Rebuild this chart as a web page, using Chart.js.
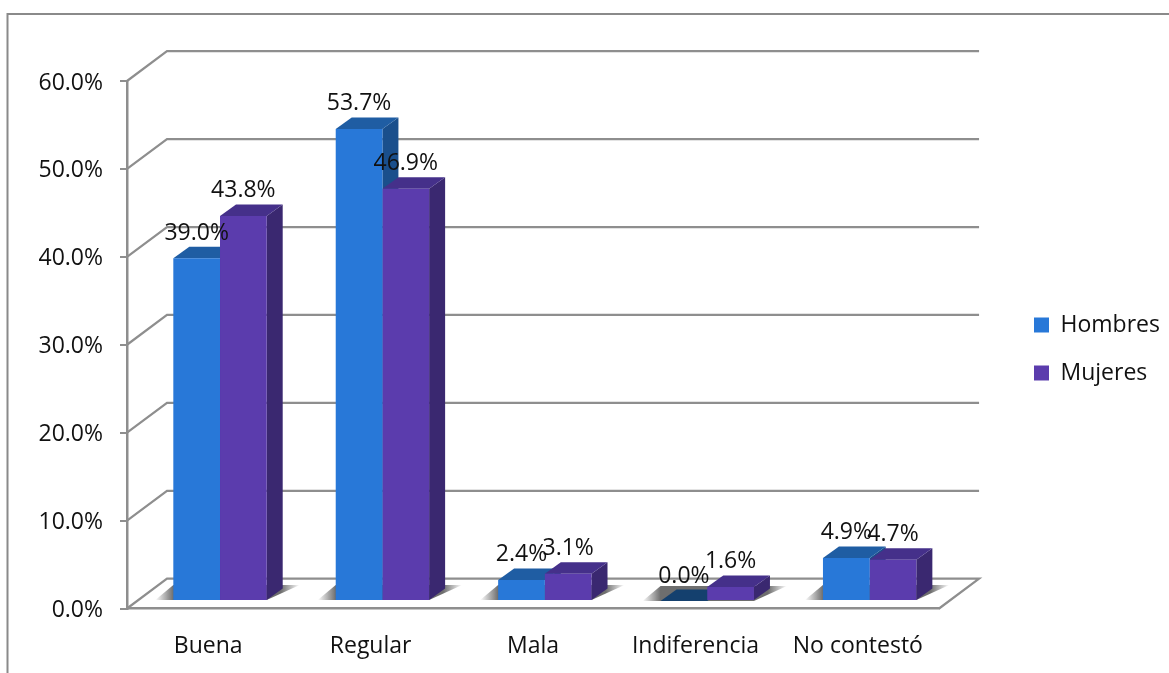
<!DOCTYPE html>
<html>
<head>
<meta charset="utf-8">
<style>html,body{margin:0;padding:0;background:#fff;overflow:hidden}#w{position:relative;width:1169px;height:673px}</style>
<script src="https://cdn.jsdelivr.net/npm/chart.js@4"></script>
</head>
<body>
<div id="w"><canvas id="c" width="1169" height="673"></canvas></div>
<script>
const categories = ['Buena', 'Regular', 'Mala', 'Indiferencia', 'No contestó'];
const hombres = [39.0, 53.7, 2.4, 0.0, 4.9];
const mujeres = [43.8, 46.9, 3.1, 1.6, 4.7];
const seriesNames = ['Hombres', 'Mujeres'];
const yTicks = [0, 10, 20, 30, 40, 50, 60];

const FONT = '"Open Sans", sans-serif';
const FS = 23;
const GRID = '#8e8e8e';
const front = ['#2878d8', '#5b3cad'];
const top3d = ['#1f5da3', '#45308a'];
const side3d = ['#1a4f8c', '#3a2870'];
const zeroTop = '#14406e';
const WALL = {dx: 40, dy: -29.8};
const BAR = {dx: 11.8, dy: -7.5};
const DEPTH = {dx: 16, dy: -11.5};

function poly(ctx, pts, fill) {
  ctx.beginPath();
  pts.forEach((p, i) => i ? ctx.lineTo(p[0], p[1]) : ctx.moveTo(p[0], p[1]));
  ctx.closePath();
  ctx.fillStyle = fill;
  ctx.fill();
}

const threeD = {
  id: 'threeD',
  afterLayout(chart) {
    const lg = chart.legend;
    const h = lg.bottom - lg.top;
    lg.top = 349 - h / 2; lg.bottom = lg.top + h;
    const w = lg.right - lg.left;
    lg.left = 1009; lg.right = lg.left + w;
  },
  beforeDraw(chart) {
    const ctx = chart.ctx;
    ctx.save();
    ctx.strokeStyle = '#8a8a8a';
    ctx.lineWidth = 2;
    ctx.beginPath();
    ctx.moveTo(7.5, 680); ctx.lineTo(7.5, 14); ctx.lineTo(1180, 14);
    ctx.stroke();
    const y = chart.scales.y, a = chart.chartArea;
    ctx.strokeStyle = GRID;
    ctx.lineWidth = 2.2;
    yTicks.forEach(v => {
      const py = y.getPixelForValue(v);
      ctx.beginPath();
      ctx.moveTo(a.left, py);
      ctx.lineTo(a.left + WALL.dx, py + WALL.dy);
      ctx.lineTo(a.right + WALL.dx, py + WALL.dy);
      if (v === 0) ctx.lineTo(a.right, py);
      ctx.stroke();
    });
    ctx.restore();
  },
  beforeDatasetsDraw(chart) {
    const ctx = chart.ctx;
    ctx.save();
    ctx.translate(BAR.dx, BAR.dy);
    const m0 = chart.getDatasetMeta(0).data, m1 = chart.getDatasetMeta(1).data;
    m0.forEach((b0, i) => {
      const b1 = m1[i];
      const x0 = b0.x - b0.width / 2, x1 = b1.x + b1.width / 2, base = b0.base;
      const L = x0 - 18, R = x1 + 33;
      const g = ctx.createLinearGradient(L, 0, R, 0);
      g.addColorStop(0, 'rgba(110,110,110,0)');
      g.addColorStop((x0 - L) / (R - L), 'rgba(110,110,110,1)');
      g.addColorStop((x1 + 14 - L) / (R - L), 'rgba(110,110,110,1)');
      g.addColorStop(1, 'rgba(110,110,110,0)');
      poly(ctx, [[L, base], [x1, base], [R, base - 15], [x0, base - 15]], g);
    });
    [m0, m1].forEach((meta, s) => {
      meta.forEach(b => {
        const xl = b.x - b.width / 2, xr = b.x + b.width / 2;
        const zero = Math.abs(b.base - b.y) < 0.5;
        if (!zero) poly(ctx, [[xr, b.y], [xr + DEPTH.dx, b.y + DEPTH.dy], [xr + DEPTH.dx, b.base + DEPTH.dy], [xr, b.base]], side3d[s]);
        poly(ctx, [[xl, b.y], [xl + DEPTH.dx, b.y + DEPTH.dy], [xr + DEPTH.dx, b.y + DEPTH.dy], [xr, b.y]], zero ? zeroTop : top3d[s]);
      });
    });
    ctx.restore();
    ctx.save();
    ctx.translate(BAR.dx, BAR.dy);
  },
  afterDatasetsDraw(chart) {
    const ctx = chart.ctx;
    ctx.fillStyle = '#111';
    ctx.font = FS + 'px ' + FONT;
    ctx.textAlign = 'center';
    ctx.textBaseline = 'alphabetic';
    chart.data.datasets.forEach((ds, s) => {
      chart.getDatasetMeta(s).data.forEach((b, i) => {
        ctx.fillText(ds.data[i].toFixed(1) + '%', b.x, b.y - 18.5);
      });
    });
    ctx.restore();
  }
};

new Chart(document.getElementById('c'), {
  type: 'bar',
  data: {
    labels: categories,
    datasets: [
      {label: seriesNames[0], data: hombres, backgroundColor: front[0]},
      {label: seriesNames[1], data: mujeres, backgroundColor: front[1]}
    ]
  },
  plugins: [threeD],
  options: {
    responsive: false,
    animation: false,
    devicePixelRatio: 1,
    categoryPercentage: 0.575,
    barPercentage: 1,
    layout: {padding: {left: 0, top: 81, right: 69, bottom: 0}},
    scales: {
      x: {
        afterFit(s) { s.height = 64.5; },
        grid: {display: false},
        border: {display: true, color: GRID, width: 2.5},
        ticks: {color: '#111', font: {family: FONT, size: FS}, padding: 16, maxRotation: 0, autoSkip: false}
      },
      y: {
        min: 0, max: 60,
        afterFit(s) { s.width = 127; },
        afterBuildTicks(s) { s.ticks = yTicks.map(v => ({value: v})); },
        grid: {drawOnChartArea: false, color: GRID, lineWidth: 2, tickLength: 7},
        border: {display: true, color: GRID, width: 2.5},
        ticks: {color: '#111', font: {family: FONT, size: FS}, padding: 17, labelOffset: 2, callback: v => v.toFixed(1) + '%'}
      }
    },
    plugins: {
      title: {display: false},
      tooltip: {enabled: false},
      legend: {
        position: 'right',
        labels: {color: '#111', font: {family: FONT, size: FS}, boxWidth: 15, boxHeight: 15, padding: 25}
      }
    }
  }
});
</script>
</body>
</html>
